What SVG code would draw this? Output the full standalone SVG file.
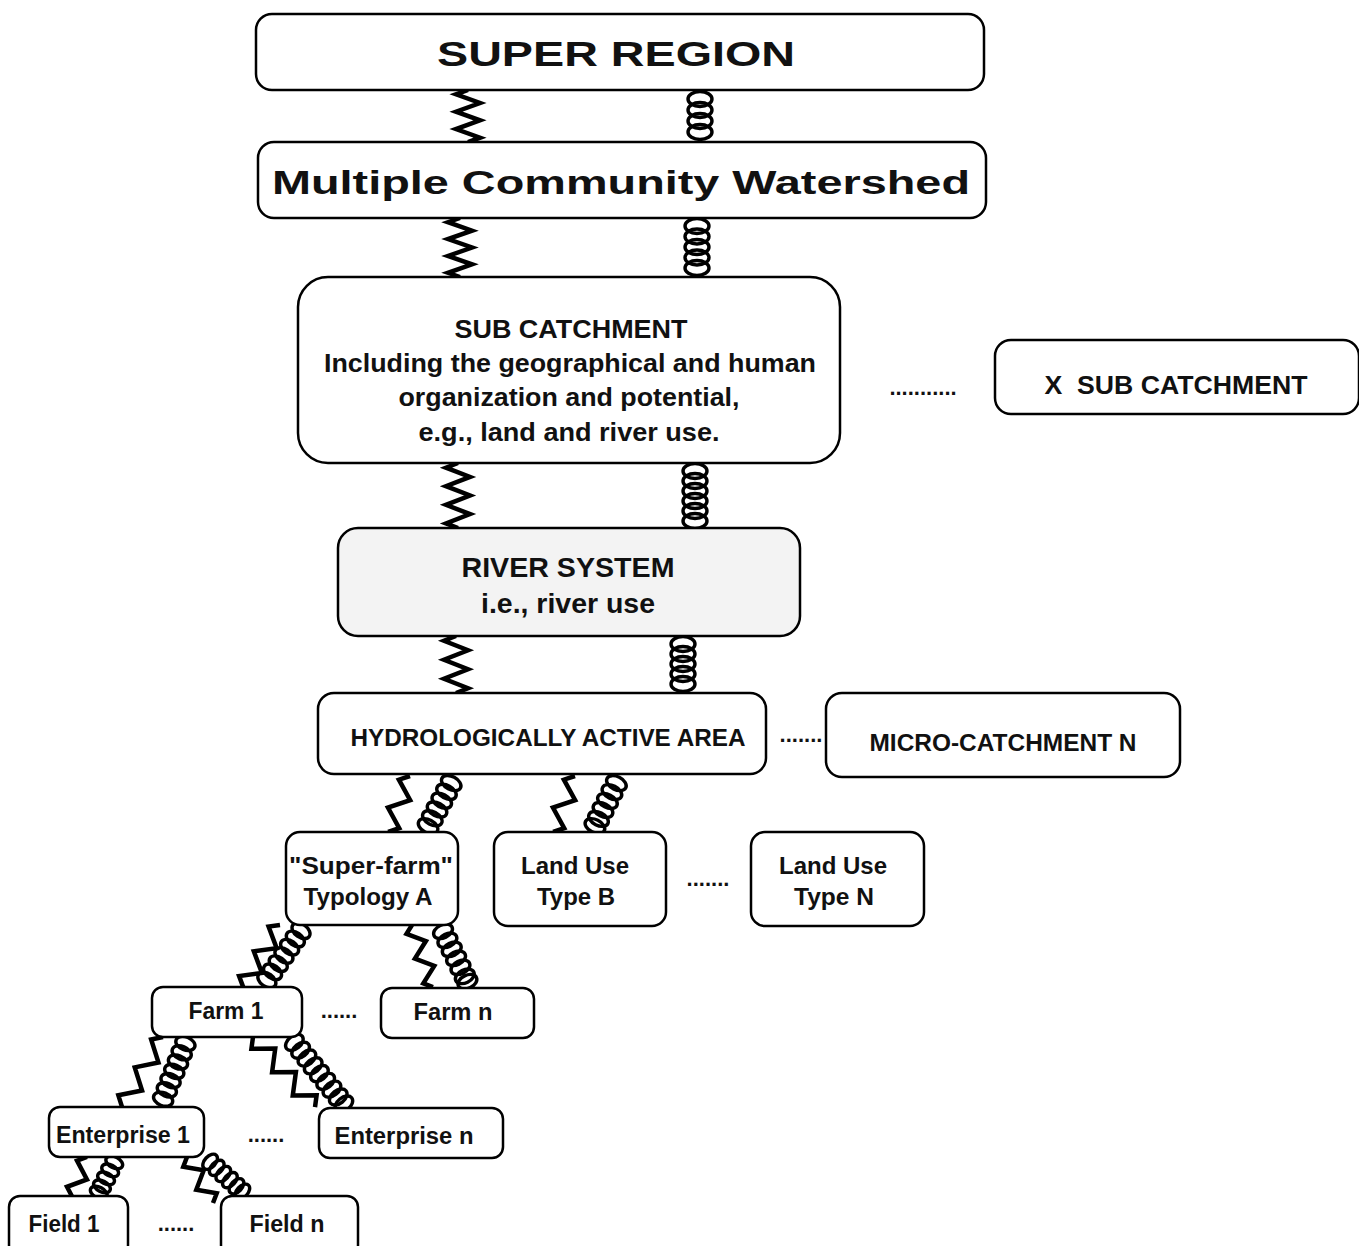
<svg xmlns="http://www.w3.org/2000/svg" width="1359" height="1246" viewBox="0 0 1359 1246">
<style>
.box{fill:#fff;stroke:#000;stroke-width:2.5}
.t{font-family:"Liberation Sans",Arial,Helvetica,sans-serif;font-weight:bold;fill:#111;text-anchor:middle}
.zz{fill:none;stroke:#000;stroke-width:4.5;stroke-linejoin:miter;stroke-miterlimit:10}
.co ellipse{fill:none;stroke:#000;stroke-width:3.4}
.dots{font-family:"Liberation Sans",Arial,sans-serif;font-weight:bold;font-size:22px;fill:#111;text-anchor:middle}
</style>
<rect width="1359" height="1246" fill="#fff"/>
<g id="connectors">
  <!-- SUPER REGION -> MCW -->
  <g transform="translate(468,90)"><path class="zz" d="M0,0 l-12,4.33 l24,8.67 l-24,8.67 l24,8.67 l-24,8.67 l24,8.67 l-12,4.33"/></g>
  <g class="co" transform="translate(700,90)"><ellipse cx="0" cy="9" rx="12" ry="7.5"/><ellipse cx="0" cy="20" rx="12" ry="7.5"/><ellipse cx="0" cy="31" rx="12" ry="7.5"/><ellipse cx="0" cy="42" rx="12" ry="7.5"/></g>
  <!-- MCW -> SUB -->
  <g transform="translate(460,218)"><path class="zz" d="M0,0 l-12,4.21 l24,8.43 l-24,8.43 l24,8.43 l-24,8.43 l24,8.43 l-24,8.43 l12,4.21"/></g>
  <g class="co" transform="translate(697,218)"><ellipse cx="0" cy="8" rx="12" ry="7.5"/><ellipse cx="0" cy="18.5" rx="12" ry="7.5"/><ellipse cx="0" cy="29" rx="12" ry="7.5"/><ellipse cx="0" cy="39.5" rx="12" ry="7.5"/><ellipse cx="0" cy="50" rx="12" ry="7.5"/></g>
  <!-- SUB -> RIVER -->
  <g transform="translate(458,463)"><path class="zz" d="M0,0 l-12,4.64 l24,9.29 l-24,9.29 l24,9.29 l-24,9.29 l24,9.29 l-24,9.29 l12,4.64"/></g>
  <g class="co" transform="translate(695,463)"><ellipse cx="0" cy="8" rx="12" ry="7.5"/><ellipse cx="0" cy="18" rx="12" ry="7.5"/><ellipse cx="0" cy="28" rx="12" ry="7.5"/><ellipse cx="0" cy="38" rx="12" ry="7.5"/><ellipse cx="0" cy="48" rx="12" ry="7.5"/><ellipse cx="0" cy="58" rx="12" ry="7.5"/></g>
  <!-- RIVER -> HAA -->
  <g transform="translate(456,636)"><path class="zz" d="M0,0 l-12,4.75 l24,9.5 l-24,9.5 l24,9.5 l-24,9.5 l24,9.5 l-12,4.75"/></g>
  <g class="co" transform="translate(683,636)"><ellipse cx="0" cy="8" rx="12" ry="7.5"/><ellipse cx="0" cy="18" rx="12" ry="7.5"/><ellipse cx="0" cy="28" rx="12" ry="7.5"/><ellipse cx="0" cy="38" rx="12" ry="7.5"/><ellipse cx="0" cy="48" rx="12" ry="7.5"/></g>
  <!-- HAA -> Super-farm -->
  <g transform="translate(410,776) rotate(21.4)"><path class="zz" d="M0,0 l-9,7.5 l18,15 l-18,15 l18,15 l-9,7.5"/></g>
  <g class="co" transform="translate(455,776) rotate(28.2)"><ellipse cx="0" cy="8" rx="10.5" ry="6.5"/><ellipse cx="0" cy="18" rx="10.5" ry="6.5"/><ellipse cx="0" cy="28" rx="10.5" ry="6.5"/><ellipse cx="0" cy="38" rx="10.5" ry="6.5"/><ellipse cx="0" cy="48" rx="10.5" ry="6.5"/><ellipse cx="0" cy="57" rx="10.5" ry="6.5"/></g>
  <!-- HAA -> Land Use B -->
  <g transform="translate(575,776) rotate(21.4)"><path class="zz" d="M0,0 l-9,7.5 l18,15 l-18,15 l18,15 l-9,7.5"/></g>
  <g class="co" transform="translate(620,776) rotate(26.6)"><ellipse cx="0" cy="8" rx="10.5" ry="6.5"/><ellipse cx="0" cy="18" rx="10.5" ry="6.5"/><ellipse cx="0" cy="28" rx="10.5" ry="6.5"/><ellipse cx="0" cy="38" rx="10.5" ry="6.5"/><ellipse cx="0" cy="48" rx="10.5" ry="6.5"/><ellipse cx="0" cy="56" rx="10.5" ry="6.5"/></g>
  <!-- Super-farm -> Farm 1 -->
  <g transform="translate(280,925) rotate(30.8)"><path class="zz" d="M0,0 l-9,7.2 l18,14.4 l-18,14.4 l18,14.4 l-18,14.4 l9,7.2"/></g>
  <g class="co" transform="translate(305,925) rotate(34.7)"><ellipse cx="0" cy="7" rx="10" ry="6.5"/><ellipse cx="0" cy="17" rx="10" ry="6.5"/><ellipse cx="0" cy="27" rx="10" ry="6.5"/><ellipse cx="0" cy="37" rx="10" ry="6.5"/><ellipse cx="0" cy="47" rx="10" ry="6.5"/><ellipse cx="0" cy="57" rx="10" ry="6.5"/><ellipse cx="0" cy="67" rx="10" ry="6.5"/></g>
  <!-- Super-farm -> Farm n -->
  <g transform="translate(412,925) rotate(-18.7)"><path class="zz" d="M0,0 l-8,6.55 l16,13.1 l-16,13.1 l16,13.1 l-16,13.1 l8,6.55"/></g>
  <g class="co" transform="translate(440,925) rotate(-25.8)"><ellipse cx="0" cy="7" rx="10" ry="6.5"/><ellipse cx="0" cy="17" rx="10" ry="6.5"/><ellipse cx="0" cy="27" rx="10" ry="6.5"/><ellipse cx="0" cy="37" rx="10" ry="6.5"/><ellipse cx="0" cy="47" rx="10" ry="6.5"/><ellipse cx="0" cy="57" rx="10" ry="6.5"/><ellipse cx="0" cy="63" rx="10" ry="6.5"/></g>
  <!-- Farm 1 -> Enterprise 1 -->
  <g transform="translate(163,1037) rotate(30.4)"><path class="zz" d="M0,0 l-9,8.1 l18,16.2 l-18,16.2 l18,16.2 l-18,16.2 l9,8.1"/></g>
  <g class="co" transform="translate(188,1037) rotate(21.8)"><ellipse cx="0" cy="7" rx="10" ry="6.5"/><ellipse cx="0" cy="17" rx="10" ry="6.5"/><ellipse cx="0" cy="27" rx="10" ry="6.5"/><ellipse cx="0" cy="37" rx="10" ry="6.5"/><ellipse cx="0" cy="47" rx="10" ry="6.5"/><ellipse cx="0" cy="57" rx="10" ry="6.5"/><ellipse cx="0" cy="67" rx="10" ry="6.5"/></g>
  <!-- Farm 1 -> Enterprise n -->
  <g transform="translate(253,1037) rotate(-41.5)"><path class="zz" d="M0,0 l-9,7.8 l18,15.6 l-18,15.6 l18,15.6 l-18,15.6 l18,15.6 l-9,7.8"/></g>
  <g class="co" transform="translate(290,1037) rotate(-38.8)"><ellipse cx="0" cy="7" rx="10" ry="6.5"/><ellipse cx="0" cy="17" rx="10" ry="6.5"/><ellipse cx="0" cy="27" rx="10" ry="6.5"/><ellipse cx="0" cy="37" rx="10" ry="6.5"/><ellipse cx="0" cy="47" rx="10" ry="6.5"/><ellipse cx="0" cy="57" rx="10" ry="6.5"/><ellipse cx="0" cy="67" rx="10" ry="6.5"/><ellipse cx="0" cy="77" rx="10" ry="6.5"/><ellipse cx="0" cy="86" rx="10" ry="6.5"/></g>
  <!-- Enterprise 1 -> Field 1 -->
  <g transform="translate(87,1157) rotate(21)"><path class="zz" d="M0,0 l-8,7 l16,14 l-16,14 l8,7"/></g>
  <g class="co" transform="translate(117,1157) rotate(27.1)"><ellipse cx="0" cy="6" rx="9" ry="5.5"/><ellipse cx="0" cy="15" rx="9" ry="5.5"/><ellipse cx="0" cy="24" rx="9" ry="5.5"/><ellipse cx="0" cy="33" rx="9" ry="5.5"/><ellipse cx="0" cy="40" rx="9" ry="5.5"/></g>
  <!-- Enterprise 1 -> Field n -->
  <g transform="translate(187,1157) rotate(-29.5)"><path class="zz" d="M0,0 l-8,6.6 l16,13.2 l-16,13.2 l16,13.2 l-8,6.6"/></g>
  <g class="co" transform="translate(205,1157) rotate(-47.1)"><ellipse cx="0" cy="7" rx="9" ry="5.5"/><ellipse cx="0" cy="16" rx="9" ry="5.5"/><ellipse cx="0" cy="25" rx="9" ry="5.5"/><ellipse cx="0" cy="34" rx="9" ry="5.5"/><ellipse cx="0" cy="43" rx="9" ry="5.5"/><ellipse cx="0" cy="51" rx="9" ry="5.5"/></g>
</g>
<g id="super-region"><rect class="box" x="256" y="14" width="728" height="76" rx="16"/><text class="t" x="616" y="66" font-size="35" textLength="358" lengthAdjust="spacingAndGlyphs">SUPER REGION</text></g>
<g id="mcw"><rect class="box" x="258" y="142" width="728" height="76" rx="16"/><text class="t" x="621" y="194" font-size="34" textLength="698" lengthAdjust="spacingAndGlyphs">Multiple Community Watershed</text></g>
<g id="sub-catchment"><rect class="box" x="298" y="277" width="542" height="186" rx="30"/>
<text class="t" x="571" y="338" font-size="26" textLength="233" lengthAdjust="spacingAndGlyphs">SUB CATCHMENT</text>
<text class="t" x="570" y="372" font-size="26" textLength="492" lengthAdjust="spacingAndGlyphs">Including the geographical and human</text>
<text class="t" x="569" y="406" font-size="26" textLength="341" lengthAdjust="spacingAndGlyphs">organization and potential,</text>
<text class="t" x="569" y="441" font-size="26" textLength="301" lengthAdjust="spacingAndGlyphs">e.g., land and river use.</text></g>
<g id="x-sub-catchment"><rect class="box" x="995" y="340" width="364" height="74" rx="16"/><text class="t" x="1176" y="394" font-size="25" textLength="263" lengthAdjust="spacingAndGlyphs" xml:space="preserve">X  SUB CATCHMENT</text></g>
<text class="dots" x="923" y="395">...........</text>
<g id="river-system"><rect class="box" x="338" y="528" width="462" height="108" rx="20" style="fill:#f3f3f3"/>
<text class="t" x="568" y="577" font-size="28" textLength="213" lengthAdjust="spacingAndGlyphs">RIVER SYSTEM</text>
<text class="t" x="568" y="613" font-size="28" textLength="174" lengthAdjust="spacingAndGlyphs">i.e., river use</text></g>
<g id="haa"><rect class="box" x="318" y="693" width="448" height="81" rx="16"/><text class="t" x="548" y="746" font-size="23.5" textLength="395" lengthAdjust="spacingAndGlyphs">HYDROLOGICALLY ACTIVE AREA</text></g>
<text class="dots" x="801" y="742">.......</text>
<g id="micro-catchment"><rect class="box" x="826" y="693" width="354" height="84" rx="16"/><text class="t" x="1003" y="751" font-size="24" textLength="267" lengthAdjust="spacingAndGlyphs">MICRO-CATCHMENT N</text></g>
<g id="super-farm"><rect class="box" x="286" y="832" width="172" height="93" rx="14"/>
<text class="t" x="371" y="874" font-size="24" textLength="164" lengthAdjust="spacingAndGlyphs">"Super-farm"</text>
<text class="t" x="368" y="905" font-size="24" textLength="129" lengthAdjust="spacingAndGlyphs">Typology A</text></g>
<g id="land-use-b"><rect class="box" x="494" y="832" width="172" height="94" rx="14"/>
<text class="t" x="575" y="874" font-size="24" textLength="108" lengthAdjust="spacingAndGlyphs">Land Use</text>
<text class="t" x="576" y="905" font-size="24" textLength="78" lengthAdjust="spacingAndGlyphs">Type B</text></g>
<text class="dots" x="708" y="886">.......</text>
<g id="land-use-n"><rect class="box" x="751" y="832" width="173" height="94" rx="14"/>
<text class="t" x="833" y="874" font-size="24" textLength="108" lengthAdjust="spacingAndGlyphs">Land Use</text>
<text class="t" x="834" y="905" font-size="24" textLength="80" lengthAdjust="spacingAndGlyphs">Type N</text></g>
<g id="farm-1"><rect class="box" x="152" y="987" width="150" height="50" rx="11"/><text class="t" x="226" y="1019" font-size="23" textLength="75" lengthAdjust="spacingAndGlyphs">Farm 1</text></g>
<text class="dots" x="339" y="1018">......</text>
<g id="farm-n"><rect class="box" x="381" y="988" width="153" height="50" rx="11"/><text class="t" x="453" y="1020" font-size="23" textLength="79" lengthAdjust="spacingAndGlyphs">Farm n</text></g>
<g id="enterprise-1"><rect class="box" x="49" y="1107" width="155" height="50" rx="11"/><text class="t" x="123" y="1143" font-size="23" textLength="134" lengthAdjust="spacingAndGlyphs">Enterprise 1</text></g>
<text class="dots" x="266" y="1142">......</text>
<g id="enterprise-n"><rect class="box" x="319" y="1108" width="184" height="50" rx="11"/><text class="t" x="404" y="1144" font-size="23" textLength="139" lengthAdjust="spacingAndGlyphs">Enterprise n</text></g>
<g id="field-1"><rect class="box" x="9" y="1196" width="119" height="60" rx="11"/><text class="t" x="64" y="1232" font-size="23" textLength="71" lengthAdjust="spacingAndGlyphs">Field 1</text></g>
<text class="dots" x="176" y="1231">......</text>
<g id="field-n"><rect class="box" x="221" y="1196" width="137" height="60" rx="11"/><text class="t" x="287" y="1232" font-size="23" textLength="75" lengthAdjust="spacingAndGlyphs">Field n</text></g>
</svg>
